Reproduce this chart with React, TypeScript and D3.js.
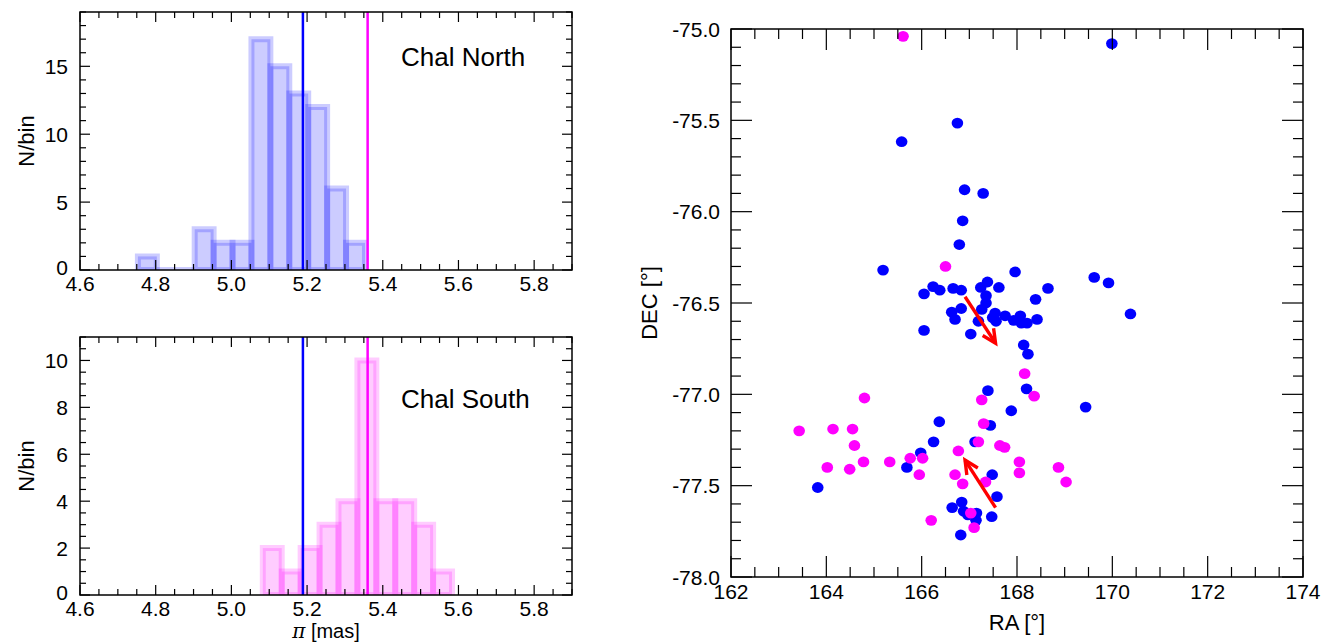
import React from "react";
import * as d3 from "d3";

// ---------------- DATA ----------------
const binWidth = 0.05;
const northBinStart = 4.753;
const northCounts = [1, 0, 0, 3, 2, 2, 17, 15, 13, 12, 6, 2];
const southBinStart = 5.083;
const southCounts = [2, 1, 2, 3, 4, 10, 4, 4, 3, 1];
const northParallax = 5.189;
const southParallax = 5.36;

const xHistTicks = [4.6, 4.8, 5.0, 5.2, 5.4, 5.6, 5.8];
const raTicks = [162, 164, 166, 168, 170, 172, 174];
const decTicks = [-75.0, -75.5, -76.0, -76.5, -77.0, -77.5, -78.0];

const northRA = [169.99, 166.75, 165.58, 166.9, 167.29, 166.86, 166.79, 165.19, 167.96, 169.62, 169.92, 166.24, 166.05, 166.38, 166.66, 166.83, 167.24, 167.38, 167.62, 168.65, 168.39, 167.35, 167.35, 167.26, 166.63, 166.83, 166.7, 167.19, 167.54, 167.49, 167.56, 167.75, 167.93, 168.07, 168.09, 168.21, 168.42, 170.38, 166.05, 167.03, 168.14, 168.23, 167.39, 168.2, 169.44, 167.88, 166.37, 167.44, 166.25, 167.12, 165.98, 165.69, 167.48, 163.82, 167.58, 166.64, 166.84, 166.88, 166.97, 167.15, 167.14, 167.47, 166.82];
const northDEC = [-75.08, -75.515, -75.617, -75.88, -75.9, -76.05, -76.18, -76.32, -76.33, -76.36, -76.39, -76.41, -76.45, -76.43, -76.42, -76.43, -76.415, -76.385, -76.415, -76.42, -76.48, -76.46, -76.5, -76.535, -76.55, -76.53, -76.59, -76.6, -76.555, -76.58, -76.6, -76.57, -76.595, -76.57, -76.61, -76.61, -76.59, -76.56, -76.65, -76.67, -76.73, -76.78, -76.98, -76.97, -77.07, -77.09, -77.15, -77.17, -77.26, -77.26, -77.32, -77.4, -77.44, -77.51, -77.56, -77.62, -77.59, -77.64, -77.66, -77.65, -77.69, -77.67, -77.77];
const southRA = [165.61, 166.5, 168.16, 168.36, 167.26, 164.8, 167.3, 163.43, 164.14, 164.55, 164.59, 167.19, 167.64, 167.74, 166.77, 165.76, 166.02, 165.33, 164.78, 164.02, 164.49, 165.95, 168.05, 168.05, 168.87, 169.03, 166.7, 166.86, 167.34, 167.03, 166.2, 167.1];
const southDEC = [-75.04, -76.3, -76.887, -77.01, -77.03, -77.02, -77.16, -77.2, -77.19, -77.19, -77.28, -77.26, -77.28, -77.29, -77.31, -77.35, -77.35, -77.37, -77.37, -77.4, -77.41, -77.44, -77.37, -77.43, -77.4, -77.48, -77.44, -77.49, -77.48, -77.65, -77.69, -77.73];

// proper-motion arrows: [ra0, dec0, ra1, dec1]
const arrowNorth = [166.91, -76.466, 167.55, -76.72];
const arrowSouth = [167.55, -77.62, 166.91, -77.36];

// ---------------- LAYOUT ----------------
const W = 1325;
const H = 643;
const FONT = "'Liberation Sans', Arial, Helvetica, sans-serif";
const TICK_FS = 21;
const TITLE_FS = 22;

const histL = 80, histR = 572;
const scL = 731, scR = 1303, scT = 29, scB = 577;

function range(a: number, b: number, step: number) {
  const out: number[] = [];
  const n = Math.round((b - a) / step);
  for (let i = 0; i <= n; i++) out.push(+(a + i * step).toFixed(6));
  return out;
}

function Frame({ x0, x1, y0, y1, xs, ys, xMaj, xMin, yMaj, yMin, majLen, minLen }: any) {
  const els: any[] = [];
  xMin.forEach((v: number, i: number) => {
    const x = xs(v);
    const isMaj = xMaj.some((m: number) => Math.abs(m - v) < 1e-6);
    const L = isMaj ? majLen : minLen;
    els.push(<line key={"xb" + i} x1={x} x2={x} y1={y1} y2={y1 - L} stroke="#000" strokeWidth={1.2} />);
    els.push(<line key={"xt" + i} x1={x} x2={x} y1={y0} y2={y0 + L} stroke="#000" strokeWidth={1.2} />);
  });
  yMin.forEach((v: number, i: number) => {
    const y = ys(v);
    const isMaj = yMaj.some((m: number) => Math.abs(m - v) < 1e-6);
    const L = isMaj ? majLen : minLen;
    els.push(<line key={"yl" + i} x1={x0} x2={x0 + L} y1={y} y2={y} stroke="#000" strokeWidth={1.2} />);
    els.push(<line key={"yr" + i} x1={x1} x2={x1 - L} y1={y} y2={y} stroke="#000" strokeWidth={1.2} />);
  });
  return (
    <g>
      {els}
      <rect x={x0} y={y0} width={x1 - x0} height={y1 - y0} fill="none" stroke="#000" strokeWidth={1.5} />
    </g>
  );
}

function Hist({ id, top, bottom, counts, start, rgb, yMax, yMaj, yMinStep, label, labelX, labelY, xTitle }: any) {
  const xs = d3.scaleLinear().domain([4.6, 5.9]).range([histL, histR]);
  const ys = d3.scaleLinear().domain([0, yMax]).range([bottom, top]);
  const bars = counts.map((c: number, i: number) => {
    const a = start + i * binWidth;
    const b = a + binWidth;
    const xa = xs(a), xb = xs(b), yc = ys(c), y0 = ys(0);
    const d = `M${xa},${y0}V${yc}H${xb}V${y0}Z`;
    return (
      <path key={i} d={d} fill={`rgba(${rgb},0.2)`} stroke={`rgba(${rgb},0.2)`} strokeWidth={6} strokeLinejoin="miter" />
    );
  });
  return (
    <g>
      <defs>
        <clipPath id={id}>
          <rect x={histL} y={top} width={histR - histL} height={bottom - top} />
        </clipPath>
      </defs>
      <g clipPath={`url(#${id})`}>
        {bars}
        <line x1={xs(northParallax)} x2={xs(northParallax)} y1={top} y2={bottom} stroke="#0000ff" strokeWidth={2.5} />
        <line x1={xs(southParallax)} x2={xs(southParallax)} y1={top} y2={bottom} stroke="#ff00ff" strokeWidth={2.5} />
      </g>
      <Frame x0={histL} x1={histR} y0={top} y1={bottom} xs={xs} ys={ys}
        xMaj={xHistTicks} xMin={range(4.6, 5.9, 0.05)}
        yMaj={yMaj} yMin={range(0, yMax, yMinStep)} majLen={10} minLen={6} />
      {xHistTicks.map((v) => (
        <text key={"xl" + v} x={xs(v)} y={bottom + 21} fontSize={TICK_FS} fontFamily={FONT} textAnchor="middle">{v.toFixed(1)}</text>
      ))}
      {yMaj.map((v: number) => (
        <text key={"yl" + v} x={histL - 12} y={ys(v) + (v === 0 ? 5 : 7.5)} fontSize={TICK_FS} fontFamily={FONT} textAnchor="end">{v}</text>
      ))}
      <text transform={`translate(${34},${(top + bottom) / 2}) rotate(-90)`} fontSize={TITLE_FS} fontFamily={FONT} textAnchor="middle">N/bin</text>
      <text x={labelX} y={labelY} fontSize={26} fontFamily={FONT}>{label}</text>
      {xTitle ? (
        <text x={(histL + histR) / 2} y={638} fontSize={20} fontFamily={FONT} textAnchor="middle">
          <tspan fontFamily="'DejaVu Serif', 'Liberation Serif', serif" fontStyle="italic">π</tspan> [mas]
        </text>
      ) : null}
    </g>
  );
}

function Arrow({ a, xs, ys }: any) {
  const x0 = xs(a[0]), y0 = ys(a[1]), x1 = xs(a[2]), y1 = ys(a[3]);
  const ang = Math.atan2(y1 - y0, x1 - x0);
  const hl = 15, ha = 0.45;
  const p1 = [x1 - hl * Math.cos(ang - ha), y1 - hl * Math.sin(ang - ha)];
  const p2 = [x1 - hl * Math.cos(ang + ha), y1 - hl * Math.sin(ang + ha)];
  return (
    <g stroke="#ff0000" strokeWidth={3.4} fill="none" strokeLinecap="butt">
      <line x1={x0} y1={y0} x2={x1} y2={y1} />
      <path d={`M${p1[0]},${p1[1]}L${x1},${y1}L${p2[0]},${p2[1]}`} strokeLinejoin="miter" />
    </g>
  );
}

function Scatter() {
  const xs = d3.scaleLinear().domain([162, 174]).range([scL, scR]);
  const ys = d3.scaleLinear().domain([-78, -75]).range([scB, scT]);
  return (
    <g>
      {northRA.map((ra, i) => (
        <ellipse key={"n" + i} cx={xs(ra)} cy={ys(northDEC[i])} rx={5.8} ry={5.4} fill="#0000ff" />
      ))}
      {southRA.map((ra, i) => (
        <ellipse key={"s" + i} cx={xs(ra)} cy={ys(southDEC[i])} rx={5.8} ry={5.4} fill="#ff00ff" />
      ))}
      <Arrow a={arrowNorth} xs={xs} ys={ys} />
      <Arrow a={arrowSouth} xs={xs} ys={ys} />
      <Frame x0={scL} x1={scR} y0={scT} y1={scB} xs={xs} ys={ys}
        xMaj={raTicks} xMin={range(162, 174, 0.5)}
        yMaj={decTicks} yMin={range(-78, -75, 0.1)} majLen={21} minLen={10} />
      {raTicks.map((v) => (
        <text key={"rx" + v} x={xs(v)} y={scB + 22} fontSize={TICK_FS} fontFamily={FONT} textAnchor="middle">{v}</text>
      ))}
      {decTicks.map((v) => (
        <text key={"dy" + v} x={scL - 11} y={ys(v) + 7.5} fontSize={TICK_FS} fontFamily={FONT} textAnchor="end">{v.toFixed(1)}</text>
      ))}
      <text x={(scL + scR) / 2} y={630} fontSize={TITLE_FS} fontFamily={FONT} textAnchor="middle">RA [°]</text>
      <text transform={`translate(${657},${(scT + scB) / 2}) rotate(-90)`} fontSize={TITLE_FS} fontFamily={FONT} textAnchor="middle">DEC [°]</text>
    </g>
  );
}

export default function App() {
  return (
    <svg width={W} height={H} style={{ position: "absolute", left: 0, top: 0, background: "#fff" }}>
      <rect x={0} y={0} width={W} height={H} fill="#fff" />
      <Hist id="clipN" top={12} bottom={270} counts={northCounts} start={northBinStart} rgb="0,0,255"
        yMax={19} yMaj={[0, 5, 10, 15]} yMinStep={1} label="Chal North" labelX={401} labelY={66} xTitle={false} />
      <Hist id="clipS" top={337} bottom={595} counts={southCounts} start={southBinStart} rgb="255,0,255"
        yMax={11} yMaj={[0, 2, 4, 6, 8, 10]} yMinStep={0.5} label="Chal South" labelX={401} labelY={408} xTitle={true} />
      <Scatter />
    </svg>
  );
}
